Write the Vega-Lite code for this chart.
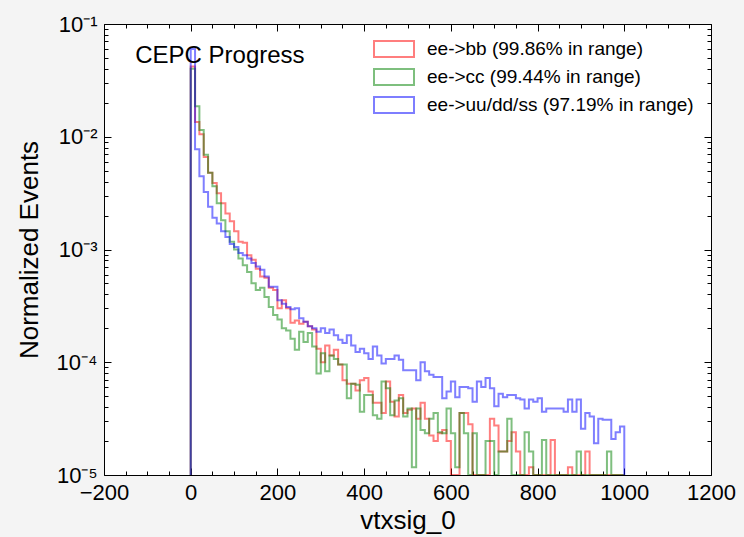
{
  "$schema": "https://vega.github.io/schema/vega-lite/v6.json",
  "width": 607,
  "height": 451,
  "autosize": {"type": "none"},
  "padding": {"left": 104, "top": 24, "right": 33, "bottom": 62},
  "background": "#f4f4f4",
  "config": {
    "view": {"stroke": "black", "strokeWidth": 1, "fill": "white"},
    "font": "Liberation Sans",
    "axis": {
      "domain": false,
      "grid": false,
      "tickColor": "black",
      "tickWidth": 1,
      "labelColor": "black",
      "labelFont": "Liberation Sans",
      "labelFontSize": 22,
      "labelOverlap": false,
      "labelFlush": false,
      "titleFont": "Liberation Sans",
      "titleFontSize": 26,
      "titleFontWeight": "normal",
      "titleColor": "black"
    }
  },
  "layer": [
    {
      "data": {
        "values": [
          {"i": 0, "x": 0, "bb": 0, "cc": 0, "uds": 0},
          {"i": 1, "x": 0, "bb": 4.2e-2, "cc": 4.0e-2, "uds": 6.0e-2},
          {"i": 2, "x": 10, "bb": 1.35e-2, "cc": 1.86e-2, "uds": 7.76e-3},
          {"i": 3, "x": 20, "bb": 1.05e-2, "cc": 1.15e-2, "uds": 4.47e-3},
          {"i": 4, "x": 30, "bb": 6.61e-3, "cc": 6.92e-3, "uds": 3.24e-3},
          {"i": 5, "x": 40, "bb": 4.79e-3, "cc": 4.79e-3, "uds": 2.40e-3},
          {"i": 6, "x": 50, "bb": 3.89e-3, "cc": 3.63e-3, "uds": 1.91e-3},
          {"i": 7, "x": 60, "bb": 3.16e-3, "cc": 2.57e-3, "uds": 1.70e-3},
          {"i": 8, "x": 70, "bb": 2.57e-3, "cc": 1.82e-3, "uds": 1.45e-3},
          {"i": 9, "x": 80, "bb": 2.09e-3, "cc": 1.45e-3, "uds": 1.29e-3},
          {"i": 10, "x": 90, "bb": 1.78e-3, "cc": 1.17e-3, "uds": 1.12e-3},
          {"i": 11, "x": 100, "bb": 1.45e-3, "cc": 1.00e-3, "uds": 1.05e-3},
          {"i": 12, "x": 110, "bb": 1.17e-3, "cc": 8.32e-4, "uds": 9.33e-4},
          {"i": 13, "x": 120, "bb": 1.15e-3, "cc": 7.24e-4, "uds": 8.91e-4},
          {"i": 14, "x": 130, "bb": 8.91e-4, "cc": 6.31e-4, "uds": 8.32e-4},
          {"i": 15, "x": 140, "bb": 8.13e-4, "cc": 5.01e-4, "uds": 7.59e-4},
          {"i": 16, "x": 150, "bb": 6.76e-4, "cc": 4.37e-4, "uds": 7.08e-4},
          {"i": 17, "x": 160, "bb": 5.75e-4, "cc": 4.57e-4, "uds": 6.61e-4},
          {"i": 18, "x": 170, "bb": 5.62e-4, "cc": 3.80e-4, "uds": 5.75e-4},
          {"i": 19, "x": 180, "bb": 4.57e-4, "cc": 3.09e-4, "uds": 4.68e-4},
          {"i": 20, "x": 190, "bb": 4.37e-4, "cc": 2.63e-4, "uds": 4.68e-4},
          {"i": 21, "x": 200, "bb": 3.02e-4, "cc": 2.40e-4, "uds": 3.55e-4},
          {"i": 22, "x": 210, "bb": 3.55e-4, "cc": 2.00e-4, "uds": 3.31e-4},
          {"i": 23, "x": 220, "bb": 3.02e-4, "cc": 1.91e-4, "uds": 3.09e-4},
          {"i": 24, "x": 230, "bb": 2.24e-4, "cc": 1.62e-4, "uds": 2.95e-4},
          {"i": 25, "x": 240, "bb": 2.34e-4, "cc": 1.29e-4, "uds": 3.02e-4},
          {"i": 26, "x": 250, "bb": 2.19e-4, "cc": 1.86e-4, "uds": 2.45e-4},
          {"i": 27, "x": 260, "bb": 2.29e-4, "cc": 1.51e-4, "uds": 2.29e-4},
          {"i": 28, "x": 270, "bb": 2.09e-4, "cc": 1.82e-4, "uds": 2.09e-4},
          {"i": 29, "x": 280, "bb": 1.95e-4, "cc": 1.38e-4, "uds": 2.00e-4},
          {"i": 30, "x": 290, "bb": 1.32e-4, "cc": 7.94e-5, "uds": 1.86e-4},
          {"i": 31, "x": 300, "bb": 1.00e-4, "cc": 1.20e-4, "uds": 2.00e-4},
          {"i": 32, "x": 310, "bb": 1.41e-4, "cc": 8.32e-5, "uds": 1.82e-4},
          {"i": 33, "x": 320, "bb": 1.15e-4, "cc": 1.15e-4, "uds": 1.95e-4},
          {"i": 34, "x": 330, "bb": 1.29e-4, "cc": 1.07e-4, "uds": 1.74e-4},
          {"i": 35, "x": 340, "bb": 9.55e-5, "cc": 9.55e-5, "uds": 1.58e-4},
          {"i": 36, "x": 350, "bb": 6.92e-5, "cc": 9.55e-5, "uds": 1.48e-4},
          {"i": 37, "x": 360, "bb": 6.46e-5, "cc": 4.79e-5, "uds": 1.74e-4},
          {"i": 38, "x": 370, "bb": 6.46e-5, "cc": 6.46e-5, "uds": 1.41e-4},
          {"i": 39, "x": 380, "bb": 5.62e-5, "cc": 6.31e-5, "uds": 1.23e-4},
          {"i": 40, "x": 390, "bb": 6.92e-5, "cc": 3.63e-5, "uds": 1.32e-4},
          {"i": 41, "x": 400, "bb": 7.24e-5, "cc": 5.13e-5, "uds": 1.20e-4},
          {"i": 42, "x": 410, "bb": 5.50e-5, "cc": 5.13e-5, "uds": 1.07e-4},
          {"i": 43, "x": 420, "bb": 4.37e-5, "cc": 3.39e-5, "uds": 1.38e-4},
          {"i": 44, "x": 430, "bb": 4.37e-5, "cc": 3.16e-5, "uds": 1.15e-4},
          {"i": 45, "x": 440, "bb": 3.55e-5, "cc": 6.76e-5, "uds": 9.77e-5},
          {"i": 46, "x": 450, "bb": 6.76e-5, "cc": 5.89e-5, "uds": 1.07e-4},
          {"i": 47, "x": 460, "bb": 4.47e-5, "cc": 3.39e-5, "uds": 1.07e-4},
          {"i": 48, "x": 470, "bb": 3.31e-5, "cc": 4.57e-5, "uds": 1.15e-4},
          {"i": 49, "x": 480, "bb": 5.13e-5, "cc": 4.79e-5, "uds": 1.05e-4},
          {"i": 50, "x": 490, "bb": 3.55e-5, "cc": 3.31e-5, "uds": 8.51e-5},
          {"i": 51, "x": 500, "bb": 3.80e-5, "cc": 3.89e-5, "uds": 8.51e-5},
          {"i": 52, "x": 510, "bb": 3.89e-5, "cc": 1.17e-5, "uds": 8.51e-5},
          {"i": 53, "x": 520, "bb": 3.16e-5, "cc": 3.89e-5, "uds": 6.92e-5},
          {"i": 54, "x": 530, "bb": 4.37e-5, "cc": 2.51e-5, "uds": 1.00e-4},
          {"i": 55, "x": 540, "bb": 3.16e-5, "cc": 2.34e-5, "uds": 8.32e-5},
          {"i": 56, "x": 550, "bb": 2.24e-5, "cc": 3.16e-5, "uds": 7.76e-5},
          {"i": 57, "x": 560, "bb": 2.00e-5, "cc": 3.55e-5, "uds": 7.41e-5},
          {"i": 58, "x": 570, "bb": 2.34e-5, "cc": 2.40e-5, "uds": 7.41e-5},
          {"i": 59, "x": 580, "bb": 2.51e-5, "cc": 2.34e-5, "uds": 4.79e-5},
          {"i": 60, "x": 590, "bb": 2.00e-5, "cc": 3.89e-5, "uds": 5.50e-5},
          {"i": 61, "x": 600, "bb": 0, "cc": 2.34e-5, "uds": 6.76e-5},
          {"i": 62, "x": 610, "bb": 0, "cc": 1.17e-5, "uds": 4.90e-5},
          {"i": 63, "x": 620, "bb": 3.55e-5, "cc": 3.55e-5, "uds": 6.03e-5},
          {"i": 64, "x": 630, "bb": 3.55e-5, "cc": 2.34e-5, "uds": 6.03e-5},
          {"i": 65, "x": 640, "bb": 2.82e-5, "cc": 0, "uds": 5.89e-5},
          {"i": 66, "x": 650, "bb": 0, "cc": 2.34e-5, "uds": 4.47e-5},
          {"i": 67, "x": 660, "bb": 0, "cc": 0, "uds": 6.76e-5},
          {"i": 68, "x": 670, "bb": 0, "cc": 0, "uds": 6.03e-5},
          {"i": 69, "x": 680, "bb": 0, "cc": 2.00e-5, "uds": 7.24e-5},
          {"i": 70, "x": 690, "bb": 3.16e-5, "cc": 2.00e-5, "uds": 5.89e-5},
          {"i": 71, "x": 700, "bb": 2.75e-5, "cc": 0, "uds": 4.07e-5},
          {"i": 72, "x": 710, "bb": 1.62e-5, "cc": 1.62e-5, "uds": 5.25e-5},
          {"i": 73, "x": 720, "bb": 1.62e-5, "cc": 1.62e-5, "uds": 4.90e-5},
          {"i": 74, "x": 730, "bb": 2.00e-5, "cc": 3.16e-5, "uds": 5.13e-5},
          {"i": 75, "x": 740, "bb": 2.40e-5, "cc": 0, "uds": 5.13e-5},
          {"i": 76, "x": 750, "bb": 1.62e-5, "cc": 0, "uds": 4.79e-5},
          {"i": 77, "x": 760, "bb": 0, "cc": 0, "uds": 4.68e-5},
          {"i": 78, "x": 770, "bb": 0, "cc": 2.40e-5, "uds": 3.89e-5},
          {"i": 79, "x": 780, "bb": 1.17e-5, "cc": 1.62e-5, "uds": 4.68e-5},
          {"i": 80, "x": 790, "bb": 0, "cc": 0, "uds": 4.47e-5},
          {"i": 81, "x": 800, "bb": 0, "cc": 0, "uds": 4.79e-5},
          {"i": 82, "x": 810, "bb": 0, "cc": 2.04e-5, "uds": 3.63e-5},
          {"i": 83, "x": 820, "bb": 0, "cc": 0, "uds": 3.89e-5},
          {"i": 84, "x": 830, "bb": 2.04e-5, "cc": 0, "uds": 3.89e-5},
          {"i": 85, "x": 840, "bb": 0, "cc": 0, "uds": 3.89e-5},
          {"i": 86, "x": 850, "bb": 0, "cc": 0, "uds": 3.89e-5},
          {"i": 87, "x": 860, "bb": 0, "cc": 0, "uds": 3.63e-5},
          {"i": 88, "x": 870, "bb": 1.17e-5, "cc": 0, "uds": 4.68e-5},
          {"i": 89, "x": 880, "bb": 0, "cc": 0, "uds": 3.63e-5},
          {"i": 90, "x": 890, "bb": 0, "cc": 1.62e-5, "uds": 4.68e-5},
          {"i": 91, "x": 900, "bb": 0, "cc": 0, "uds": 2.57e-5},
          {"i": 92, "x": 910, "bb": 1.62e-5, "cc": 0, "uds": 3.55e-5},
          {"i": 93, "x": 920, "bb": 0, "cc": 0, "uds": 3.31e-5},
          {"i": 94, "x": 930, "bb": 0, "cc": 0, "uds": 1.91e-5},
          {"i": 95, "x": 940, "bb": 0, "cc": 0, "uds": 3.16e-5},
          {"i": 96, "x": 950, "bb": 0, "cc": 0, "uds": 3.09e-5},
          {"i": 97, "x": 960, "bb": 0, "cc": 1.62e-5, "uds": 3.09e-5},
          {"i": 98, "x": 970, "bb": 0, "cc": 0, "uds": 2.09e-5},
          {"i": 99, "x": 980, "bb": 0, "cc": 0, "uds": 2.40e-5},
          {"i": 100, "x": 990, "bb": 0, "cc": 0, "uds": 2.69e-5},
          {"i": 101, "x": 1000, "bb": 0, "cc": 0, "uds": 2.69e-5},
          {"i": 102, "x": 1000, "bb": 0, "cc": 0, "uds": 0}
        ]
      },
      "transform": [{"fold": ["bb", "cc", "uds"], "as": ["sample", "density"]}],
      "mark": {"type": "line", "interpolate": "step-after", "strokeWidth": 2, "strokeOpacity": 0.5, "clip": true, "invalid": "show"},
      "encoding": {
        "x": {
          "field": "x",
          "type": "quantitative",
          "scale": {"domain": [-200, 1200], "nice": false, "zero": false},
          "axis": {
            "orient": "bottom",
            "values": [-200, -150, -100, -50, 0, 50, 100, 150, 200, 250, 300, 350, 400, 450, 500, 550, 600, 650, 700, 750, 800, 850, 900, 950, 1000, 1050, 1100, 1150, 1200],
            "labelExpr": "datum.value % 200 === 0 ? replace(format(datum.value, 'd'), '-', '\u2212') : ''",
            "tickSize": {"condition": {"test": "datum.value % 200 === 0", "value": -7}, "value": -4},
            "labelPadding": 14,
            "title": "vtxsig_0",
            "titlePadding": 1
          }
        },
        "y": {
          "field": "density",
          "type": "quantitative",
          "scale": {"type": "log", "domain": [1e-5, 0.1], "nice": false, "clamp": true},
          "axis": {
            "orient": "left",
            "values": [1e-5, 2e-5, 3e-5, 4e-5, 5e-5, 6e-5, 7e-5, 8e-5, 9e-5, 1e-4, 2e-4, 3e-4, 4e-4, 5e-4, 6e-4, 7e-4, 8e-4, 9e-4, 1e-3, 2e-3, 3e-3, 4e-3, 5e-3, 6e-3, 7e-3, 8e-3, 9e-3, 1e-2, 2e-2, 3e-2, 4e-2, 5e-2, 6e-2, 7e-2, 8e-2, 9e-2, 1e-1],
            "labelExpr": "abs(log(datum.value)/LN10 - round(log(datum.value)/LN10)) < 0.001 ? '10' + ['\u2070', '\u207b\u00b9', '\u207b\u00b2', '\u207b\u00b3', '\u207b\u2074', '\u207b\u2075'][-round(log(datum.value)/LN10)] : ''",
            "tickSize": {"condition": {"test": "abs(log(datum.value)/LN10 - round(log(datum.value)/LN10)) < 0.001", "value": -7}, "value": -4},
            "labelPadding": 14,
            "title": "Normalized Events",
            "titlePadding": 14
          }
        },
        "stroke": {
          "field": "sample",
          "type": "nominal",
          "scale": {"domain": ["bb", "cc", "uds"], "range": ["#ff0000", "#008000", "#0000ff"]},
          "legend": {
            "orient": "none",
            "legendX": 279,
            "legendY": 14,
            "title": null,
            "symbolType": "M-2,-0.8H2V0.8H-2Z",
            "symbolSize": 400,
            "symbolStrokeWidth": 2,
            "symbolOpacity": 0.5,
            "symbolFillColor": "transparent",
            "labelFont": "Liberation Sans",
            "labelFontSize": 19,
            "labelColor": "black",
            "labelOffset": 22,
            "labelLimit": 400,
            "rowPadding": 4,
            "labelExpr": "datum.value === 'bb' ? 'ee->bb (99.86% in range)' : datum.value === 'cc' ? 'ee->cc (99.44% in range)' : 'ee->uu/dd/ss (97.19% in range)'"
          }
        },
        "order": {"field": "i", "type": "quantitative"}
      }
    },
    {
      "data": {"values": [{"x": -128, "y": 0.052, "label": "CEPC Progress"}]},
      "mark": {"type": "text", "align": "left", "baseline": "middle", "fontSize": 24, "font": "Liberation Sans", "color": "black"},
      "encoding": {
        "x": {
          "field": "x",
          "type": "quantitative",
          "axis": {
            "orient": "top",
            "values": [-200, -150, -100, -50, 0, 50, 100, 150, 200, 250, 300, 350, 400, 450, 500, 550, 600, 650, 700, 750, 800, 850, 900, 950, 1000, 1050, 1100, 1150, 1200],
            "labels": false,
            "tickSize": {"condition": {"test": "datum.value % 200 === 0", "value": -7}, "value": -4},
            "title": null
          }
        },
        "y": {
          "field": "y",
          "type": "quantitative",
          "axis": {
            "orient": "right",
            "values": [1e-5, 2e-5, 3e-5, 4e-5, 5e-5, 6e-5, 7e-5, 8e-5, 9e-5, 1e-4, 2e-4, 3e-4, 4e-4, 5e-4, 6e-4, 7e-4, 8e-4, 9e-4, 1e-3, 2e-3, 3e-3, 4e-3, 5e-3, 6e-3, 7e-3, 8e-3, 9e-3, 1e-2, 2e-2, 3e-2, 4e-2, 5e-2, 6e-2, 7e-2, 8e-2, 9e-2, 1e-1],
            "labels": false,
            "tickSize": {"condition": {"test": "abs(log(datum.value)/LN10 - round(log(datum.value)/LN10)) < 0.001", "value": -7}, "value": -4},
            "title": null
          }
        },
        "text": {"field": "label", "type": "nominal"}
      }
    }
  ],
  "resolve": {"axis": {"x": "independent", "y": "independent"}}
}
